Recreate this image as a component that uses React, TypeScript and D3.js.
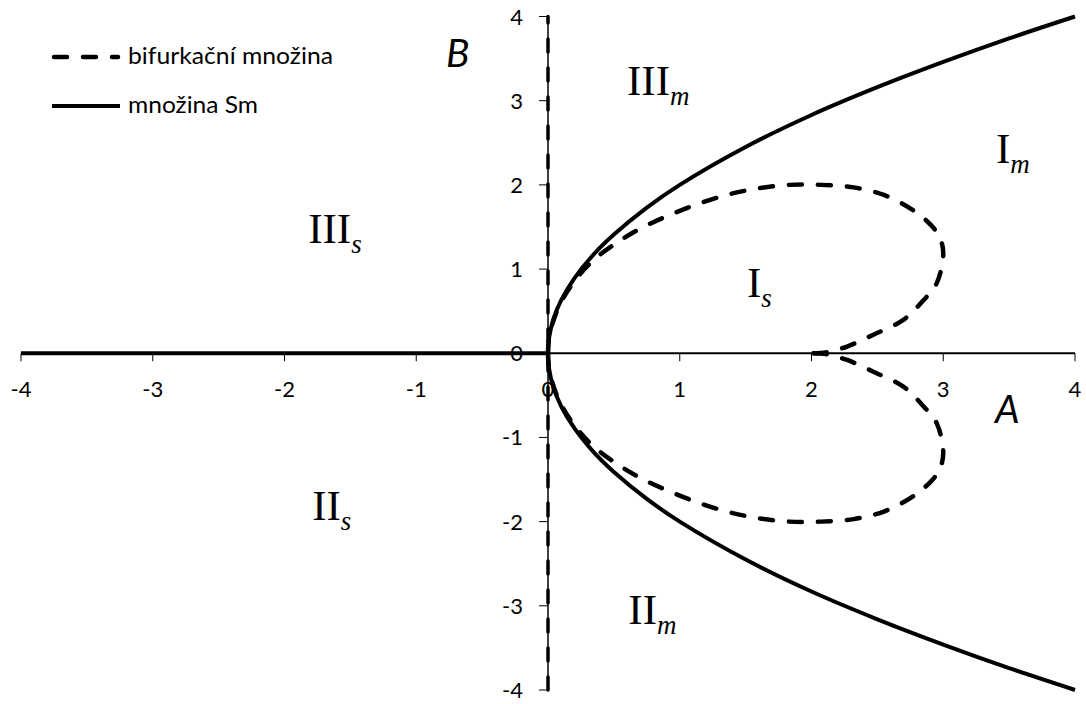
import React from "react";
import * as d3 from "d3";

// Set Sm: B = ±2√A for A ≥ 0, and B = 0 for A < 0
const smA = [0, 0.01, 0.04, 0.1, 0.2, 0.35, 0.5, 0.75, 1, 1.5, 2, 2.5, 3, 3.5, 4];
const smUpperB = [0, 0.2, 0.4, 0.63, 0.89, 1.18, 1.41, 1.73, 2, 2.45, 2.83, 3.16, 3.46, 3.74, 4];
const smLowerB = [0, -0.2, -0.4, -0.63, -0.89, -1.18, -1.41, -1.73, -2, -2.45, -2.83, -3.16, -3.46, -3.74, -4];
const smNegA = [-4, 0];
const smNegB = [0, 0];

// Bifurcation set: the loop from the origin around to the cusp at (2, 0)
const bifA = [0, 0.01, 0.07, 0.17, 0.32, 0.5, 0.7, 0.92, 1.15, 1.38, 1.6, 1.83, 2.07, 2.32, 2.55, 2.77, 2.92, 2.98, 3.0, 2.95, 2.85, 2.7, 2.47, 2.27, 2.11, 2.0];
const bifUpperB = [0, 0.2, 0.51, 0.79, 1.07, 1.29, 1.48, 1.64, 1.78, 1.89, 1.96, 2.0, 2.0, 1.97, 1.88, 1.7, 1.5, 1.35, 1.17, 0.83, 0.63, 0.4, 0.22, 0.08, 0.01, 0];
const bifLowerB = [0, -0.2, -0.51, -0.79, -1.07, -1.29, -1.48, -1.64, -1.78, -1.89, -1.96, -2.0, -2.0, -1.97, -1.88, -1.7, -1.5, -1.35, -1.17, -0.83, -0.63, -0.4, -0.22, -0.08, -0.01, 0];
// Bifurcation set also contains the whole B axis (A = 0)
const bifAxisA = [0, 0];
const bifAxisB = [-4, 4];

const xTicks = [-4, -3, -2, -1, 0, 1, 2, 3, 4];
const yTicks = [-4, -3, -2, -1, 0, 1, 2, 3, 4];

// Region labels: roman numeral, subscript, position in (A, B)
const regionNames = ["III", "I", "III", "I", "II", "II"];
const regionSubs = ["m", "m", "s", "s", "s", "m"];
const regionA = [0.6, 3.4, -1.82, 1.51, -1.79, 0.61];
const regionB = [3.07, 2.26, 1.31, 0.67, -1.98, -3.22];

const legendLabels = ["bifurkační množina", "množina Sm"];

const W = 1086;
const H = 704;

type Pt = [number, number];
const zip = (a: number[], b: number[]): Pt[] => a.map((v, i) => [v, b[i]]);

export default function App() {
  const x = d3.scaleLinear().domain([-4, 4]).range([21, 1075]);
  const y = d3.scaleLinear().domain([-4, 4]).range([690, 16.5]);

  const smooth = d3
    .line<Pt>()
    .x((d) => x(d[0]))
    .y((d) => y(d[1]))
    .curve(d3.curveCatmullRom.alpha(0.5));
  const straight = d3
    .line<Pt>()
    .x((d) => x(d[0]))
    .y((d) => y(d[1]));

  const sans = "Lato, 'Open Sans', sans-serif";
  const serif = "'Liberation Serif', 'DejaVu Serif', serif";
  const dash = "13,16";

  return (
    <svg
      width={W}
      height={H}
      viewBox={`0 0 ${W} ${H}`}
      style={{ position: "absolute", left: 0, top: 0, background: "#fff" }}
    >
      <rect x={0} y={0} width={W} height={H} fill="#fff" />

      {/* axes */}
      <line x1={x(-4)} x2={x(4)} y1={y(0)} y2={y(0)} stroke="#000" strokeWidth={2} />
      <line x1={x(0)} x2={x(0)} y1={y(-4)} y2={y(4)} stroke="#000" strokeWidth={1.5} />
      {xTicks.map((t) => (
        <g key={"xt" + t}>
          <line x1={x(t)} x2={x(t)} y1={y(0)} y2={y(0) + 8} stroke="#000" strokeWidth={1} />
          <text x={x(t)} y={y(0) + 44} textAnchor="middle" fontFamily={sans} fontSize={22} fill="#000">
            {t}
          </text>
        </g>
      ))}
      {yTicks.map((t) => (
        <g key={"yt" + t}>
          <line x1={x(0) - 9} x2={x(0)} y1={y(t)} y2={y(t)} stroke="#000" strokeWidth={1} />
          <text x={x(0) - 25} y={y(t) + 8} textAnchor="end" fontFamily={sans} fontSize={22} fill="#000">
            {t}
          </text>
        </g>
      ))}

      {/* set Sm */}
      <path d={straight(zip(smNegA, smNegB)) || ""} fill="none" stroke="#000" strokeWidth={4} />
      <path d={smooth(zip(smA, smUpperB)) || ""} fill="none" stroke="#000" strokeWidth={4} />
      <path d={smooth(zip(smA, smLowerB)) || ""} fill="none" stroke="#000" strokeWidth={4} />

      {/* bifurcation set */}
      <path
        d={straight(zip(bifAxisA, bifAxisB)) || ""}
        fill="none"
        stroke="#000"
        strokeWidth={3.5}
        strokeDasharray={dash}
        strokeLinecap="round"
      />
      <path
        d={smooth(zip(bifA, bifUpperB)) || ""}
        fill="none"
        stroke="#000"
        strokeWidth={4.5}
        strokeDasharray={dash}
        strokeLinecap="round"
      />
      <path
        d={smooth(zip(bifA, bifLowerB)) || ""}
        fill="none"
        stroke="#000"
        strokeWidth={4.5}
        strokeDasharray={dash}
        strokeLinecap="round"
      />

      {/* axis names */}
      <text x={446} y={67} fontFamily={sans} fontStyle="italic" fontSize={39} fill="#000">
        B
      </text>
      <text x={995} y={423} fontFamily={sans} fontStyle="italic" fontSize={39} fill="#000">
        A
      </text>

      {/* region labels */}
      {regionNames.map((n, i) => (
        <text key={"r" + i} x={x(regionA[i])} y={y(regionB[i])} fontFamily={serif} fontSize={43} fill="#000">
          <tspan>{n}</tspan>
          <tspan dy={10} fontStyle="italic" fontSize={27}>
            {regionSubs[i]}
          </tspan>
        </text>
      ))}

      {/* legend */}
      <line x1={54} x2={118} y1={57} y2={57} stroke="#000" strokeWidth={4.5} strokeDasharray={dash} strokeLinecap="round" />
      <text x={128} y={64} fontFamily={sans} fontSize={23} fill="#000" textLength={205} lengthAdjust="spacingAndGlyphs">
        {legendLabels[0]}
      </text>
      <line x1={52} x2={120} y1={106} y2={106} stroke="#000" strokeWidth={4} />
      <text x={128} y={113} fontFamily={sans} fontSize={23} fill="#000" textLength={130} lengthAdjust="spacingAndGlyphs">
        {legendLabels[1]}
      </text>
    </svg>
  );
}
